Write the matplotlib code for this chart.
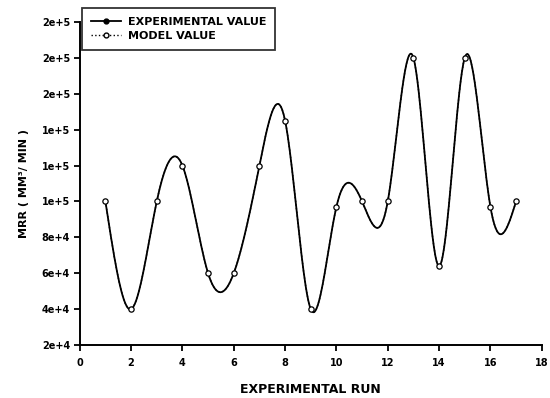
import numpy as np
import matplotlib
matplotlib.use('Agg')
import matplotlib.pyplot as plt
from matplotlib.lines import Line2D

# data
runs = [1, 2, 3, 4, 5, 6, 7, 8, 9, 10, 11, 12, 13, 14, 15, 16, 17]
experimental = [100000, 40000, 100000, 120000, 60000, 60000, 120000, 145000, 40000,
                97000, 100000, 100000, 180000, 64000, 180000, 97000, 100000]
model = [100000, 40000, 100000, 120000, 60000, 60000, 120000, 145000, 40000,
         97000, 100000, 100000, 180000, 64000, 180000, 97000, 100000]

x_ticks = [0, 2, 4, 6, 8, 10, 12, 14, 16, 18]
y_ticks = [20000, 40000, 60000, 80000, 100000, 120000, 140000, 160000, 180000, 200000]
y_tick_labels = ['2e+4', '4e+4', '6e+4', '8e+4', '1e+5', '1e+5', '1e+5', '2e+5', '2e+5', '2e+5']


# natural cubic spline, used only to draw the smooth connecting curve
def spline_curve(x, y, n=600):
    x = np.asarray(x, float)
    y = np.asarray(y, float)
    k = len(x)
    h = np.diff(x)
    A = np.zeros((k, k))
    b = np.zeros(k)
    A[0, 0] = A[-1, -1] = 1
    for i in range(1, k - 1):
        A[i, i - 1] = h[i - 1]
        A[i, i] = 2 * (h[i - 1] + h[i])
        A[i, i + 1] = h[i]
        b[i] = 6 * ((y[i + 1] - y[i]) / h[i] - (y[i] - y[i - 1]) / h[i - 1])
    m = np.linalg.solve(A, b)
    xs = np.linspace(x[0], x[-1], n)
    idx = np.clip(np.searchsorted(x, xs) - 1, 0, k - 2)
    x0, x1 = x[idx], x[idx + 1]
    hh = x1 - x0
    t0, t1 = x1 - xs, xs - x0
    ys = (m[idx] * t0**3 + m[idx + 1] * t1**3) / (6 * hh) \
        + (y[idx] / hh - m[idx] * hh / 6) * t0 \
        + (y[idx + 1] / hh - m[idx + 1] * hh / 6) * t1
    return xs, ys


plt.rcParams['font.family'] = ['DejaVu Sans']
plt.rcParams['font.weight'] = 'bold'

fig = plt.figure(figsize=(5.5, 3.98), dpi=100)
ax = fig.add_axes([0.145, 0.133, 0.84, 0.812])

xs, ys = spline_curve(runs, model)
ax.plot(xs, ys, color='black', linestyle=':', linewidth=1.0)
xs, ys = spline_curve(runs, experimental)
ax.plot(xs, ys, color='black', linestyle='-', linewidth=1.3)
ax.plot(runs, model, linestyle='none', marker='o', markersize=3.8,
        markerfacecolor='white', markeredgecolor='black', markeredgewidth=0.9)

ax.set_xlim(0, 18)
ax.set_ylim(20000, 200000)
ax.set_xticks(x_ticks)
ax.set_yticks(y_ticks)
ax.set_yticklabels(y_tick_labels)
ax.tick_params(direction='out', length=4, width=1.3, labelsize=7)
ax.tick_params(axis='x', pad=5)
ax.tick_params(axis='y', pad=3)
for lab in ax.get_xticklabels() + ax.get_yticklabels():
    lab.set_fontweight('bold')
ax.spines['top'].set_visible(False)
ax.spines['right'].set_visible(False)
ax.spines['left'].set_linewidth(1.4)
ax.spines['bottom'].set_linewidth(1.4)

ax.set_xlabel('EXPERIMENTAL RUN', fontsize=9, fontweight='bold', labelpad=11)
ax.set_ylabel('MRR ( MM³/ MIN )', fontsize=8, fontweight='bold', labelpad=9)

handles = [
    Line2D([], [], color='black', linestyle='-', linewidth=1.3, marker='o',
           markersize=3.5, markerfacecolor='black'),
    Line2D([], [], color='black', linestyle=':', linewidth=1.0, marker='o',
           markersize=3.5, markerfacecolor='white'),
]
leg = fig.legend(handles, ['EXPERIMENTAL VALUE', 'MODEL VALUE'],
                 loc='upper left', bbox_to_anchor=(82 / 550, 1 - 8 / 398),
                 prop={'size': 8, 'weight': 'bold'}, frameon=True, fancybox=False,
                 handlelength=2.7, borderpad=0.8, labelspacing=0.35,
                 handletextpad=0.6, borderaxespad=0)
leg.get_frame().set_edgecolor('black')
leg.get_frame().set_linewidth(1.3)

fig.savefig('out.png', dpi=100)
